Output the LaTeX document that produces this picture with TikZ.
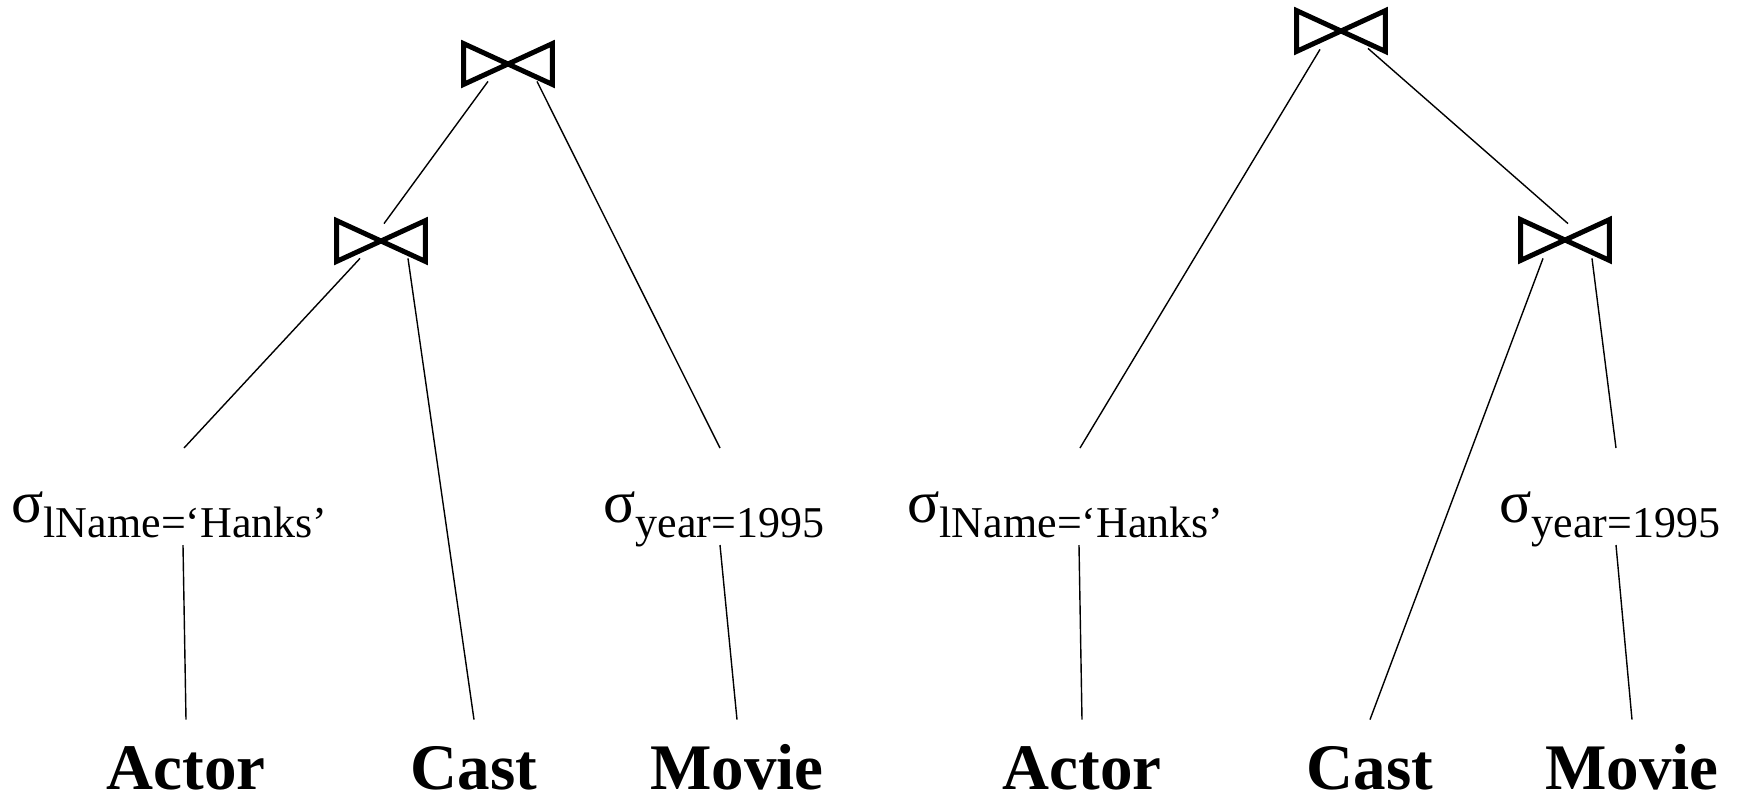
\documentclass[tikz,border=0pt]{standalone}
\usepackage{fontspec}
\setmainfont{Liberation Serif}
\usetikzlibrary{calc}
\newcommand{\sigmasub}[1]{{\fontsize{30}{30}\selectfont σ}\raisebox{-7.5pt}{\fontsize{22}{22}\selectfont #1}}
\tikzset{
  joinop/.style={inner sep=0pt,minimum width=44pt,minimum height=20pt},
  bowtie/.style={line width=2.5pt,line join=miter},
  rel/.style={font=\fontsize{32.5}{32.5}\selectfont\bfseries,inner sep=0pt,text height=34.5pt,anchor=base},
  sel/.style={inner sep=0pt,text height=37pt,text depth=11.5pt,anchor=base west},
  edge/.style={line width=0.7pt}
}

\begin{document}
\begin{tikzpicture}[x=0.5pt,y=-0.5pt]
\useasboundingbox (0,0) rectangle (1737,799);
% left plan
\node[joinop](j1) at (508,64){};\node[joinop](j2) at (381,241){};
\node[sel](s1) at (11,522){\sigmasub{lName=‘Hanks’}};\node[sel](s2) at (603,522){\sigmasub{year=1995}};
\node[rel](a1) at (186,789){Actor};\node[rel](c1) at (474,789){Cast};\node[rel](m1) at (737,789){Movie};
\draw[edge]($(j1.south)+(-20,-3)$)--($(j2.north)+(3,3)$);
\draw[edge]($(j1.south)+(29,-3)$)--($(s2.base west)+(117,-74)$);
\draw[edge]($(j2.south)+(-21,-3)$)--($(s1.base west)+(173,-74)$);
\draw[edge]($(j2.south)+(27,-3)$)--(c1.north);
\draw[edge]($(s1.base west)+(172,23)$)--(a1.north);
\draw[edge]($(s2.base west)+(117,23)$)--(m1.north);
% right plan
\node[joinop](j3) at (1341,31){};\node[joinop](j4) at (1565,240){};
\node[sel](s3) at (907,522){\sigmasub{lName=‘Hanks’}};\node[sel](s4) at (1499,522){\sigmasub{year=1995}};
\node[rel](a2) at (1082,789){Actor};\node[rel](c2) at (1370,789){Cast};\node[rel](m2) at (1632,789){Movie};
\draw[edge]($(j3.south)+(-21,-2)$)--($(s3.base west)+(173,-74)$);
\draw[edge]($(j3.south)+(27,-3)$)--($(j4.north)+(3,4)$);
\draw[edge]($(j4.south)+(-22,-2)$)--(c2.north);
\draw[edge]($(j4.south)+(27,-2)$)--($(s4.base west)+(117,-74)$);
\draw[edge]($(s3.base west)+(172,23)$)--(a2.north);
\draw[edge]($(s4.base west)+(117,23)$)--(m2.north);
\foreach \j in {j1,j2,j3,j4}{\draw[bowtie](\j.north west)--(\j.south east)--(\j.north east)--(\j.south west)--cycle;}
\end{tikzpicture}
\end{document}
